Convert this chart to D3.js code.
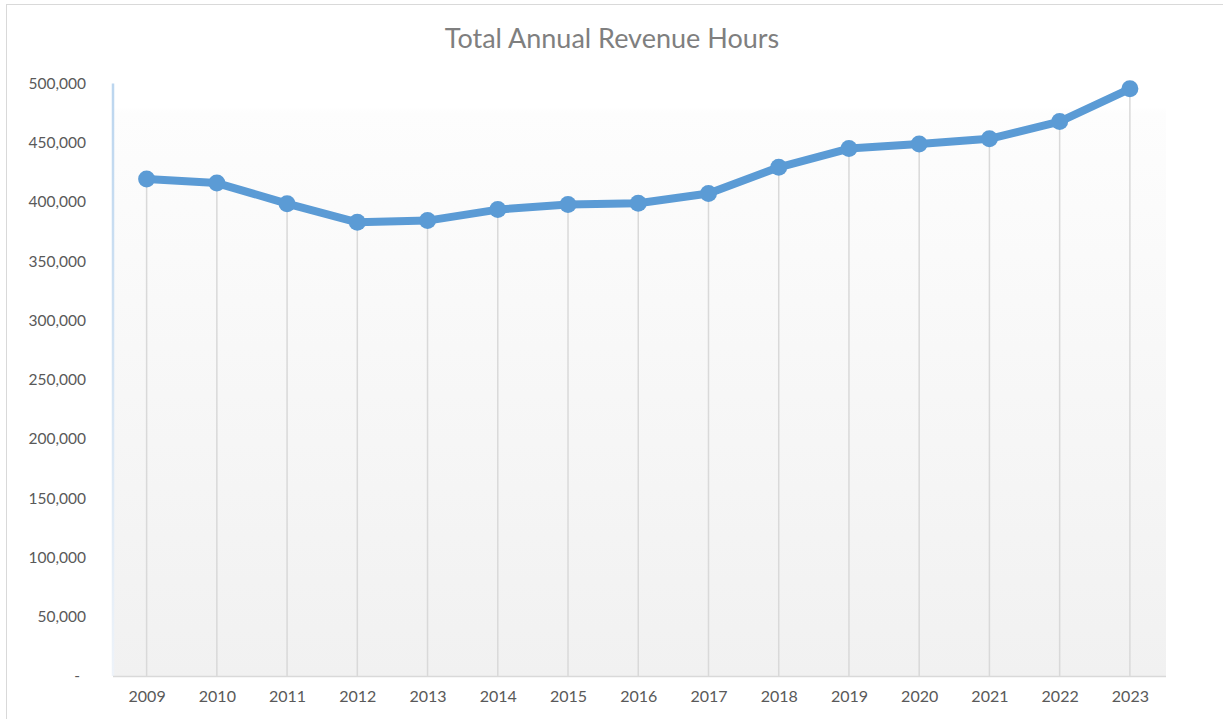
<!DOCTYPE html>
<html>
<head>
<meta charset="utf-8">
<script src="https://cdn.jsdelivr.net/npm/d3@7"></script>
<style>
  body { margin: 0; background: #fff; }
  svg { display: block; }
</style>
</head>
<body>
<div id="chart"></div>
<script>
// chart data
const years = ["2009", "2010", "2011", "2012", "2013", "2014", "2015", "2016",
               "2017", "2018", "2019", "2020", "2021", "2022", "2023"];
const revenueHours = [419500, 416000, 398600, 382900, 384300, 393600, 397800, 399000,
                      407100, 429300, 445100, 449000, 453300, 467900, 495500];
const yTicks = [0, 50000, 100000, 150000, 200000, 250000, 300000, 350000, 400000, 450000, 500000];
const chartTitle = "Total Annual Revenue Hours";

const width = 1223, height = 719;
const plot = { left: 113, right: 1166, top: 83.5, bottom: 676 };

const svg = d3.select("#chart")
    .append("svg")
    .attr("width", width)
    .attr("height", height);

const defs = svg.append("defs");

// plot area background, white fading to light gray
const bg = defs.append("linearGradient")
    .attr("id", "plotBg")
    .attr("x1", 0).attr("y1", 0).attr("x2", 0).attr("y2", 1);
bg.append("stop").attr("offset", "0%").attr("stop-color", "#ffffff");
bg.append("stop").attr("offset", "4%").attr("stop-color", "#ffffff");
bg.append("stop").attr("offset", "5%").attr("stop-color", "#fdfdfd");
bg.append("stop").attr("offset", "100%").attr("stop-color", "#f1f1f1");

// left edge blue line, fades out downwards
const edge = defs.append("linearGradient")
    .attr("id", "edgeBlue")
    .attr("gradientUnits", "userSpaceOnUse")
    .attr("x1", 0).attr("y1", plot.top).attr("x2", 0).attr("y2", plot.bottom);
edge.append("stop").attr("offset", "0%").attr("stop-color", "#bcd6ef");
edge.append("stop").attr("offset", "100%").attr("stop-color", "#eef3f9");

// outer chart border (runs off the right and bottom of the view)
svg.append("rect")
    .attr("x", 6.5)
    .attr("y", 4.5)
    .attr("width", width + 20)
    .attr("height", height + 20)
    .attr("fill", "#fff")
    .attr("stroke", "#d9d9d9")
    .attr("stroke-width", 1);

//scales
const x = d3.scalePoint()
    .domain(years)
    .range([111.5, 1165])
    .padding(0.5);

const y = d3.scaleLinear()
    .domain([0, 500000])
    .range([plot.bottom, plot.top]);

svg.append("rect")
    .attr("x", plot.left)
    .attr("y", plot.top)
    .attr("width", plot.right - plot.left)
    .attr("height", plot.bottom - plot.top)
    .attr("fill", "url(#plotBg)");

svg.append("line")
    .attr("x1", plot.left).attr("x2", plot.left)
    .attr("y1", plot.top).attr("y2", plot.bottom)
    .attr("stroke", "url(#edgeBlue)")
    .attr("stroke-width", 2.5);

// title
svg.append("text")
    .attr("x", 612)
    .attr("y", 48)
    .attr("text-anchor", "middle")
    .style("font-family", "Lato, 'Open Sans', sans-serif")
    .style("font-size", "27px")
    .style("fill", "#7f7f7f")
    .text(chartTitle);

// y axis labels (no line, no ticks)
const fmt = d3.format(",");
const yAxis = svg.append("g")
    .attr("transform", `translate(${plot.left - 27},0)`)
    .call(d3.axisLeft(y)
        .tickValues(yTicks)
        .tickSize(0)
        .tickPadding(0)
        .tickFormat((d) => (d === 0 ? "-" : fmt(d))));
yAxis.select(".domain").remove();
yAxis.selectAll("text")
    .style("font-family", "Lato, 'Open Sans', sans-serif")
    .style("font-size", "15.5px")
    .style("fill", "#595959");
yAxis.selectAll(".tick")
    .filter((d) => d === 0)
    .select("text")
    .attr("dx", -6);

// drop lines from each point to the axis
svg.append("g")
    .selectAll("line")
    .data(revenueHours)
    .enter()
    .append("line")
    .attr("x1", (d, i) => x(years[i]))
    .attr("x2", (d, i) => x(years[i]))
    .attr("y1", (d) => y(d))
    .attr("y2", plot.bottom)
    .attr("stroke", "#d9d9d9")
    .attr("stroke-width", 1.5);

// x axis
const xAxis = svg.append("g")
    .attr("transform", `translate(0,${plot.bottom})`)
    .call(d3.axisBottom(x).tickSize(0).tickPadding(15));
xAxis.select(".domain")
    .attr("d", `M${plot.left},0.5H${plot.right}`)
    .attr("stroke", "#d9d9d9")
    .attr("stroke-width", 1.5);
xAxis.selectAll("text")
    .style("font-family", "Lato, 'Open Sans', sans-serif")
    .style("font-size", "16px")
    .style("fill", "#595959");

// series line and markers
const line = d3.line()
    .x((d, i) => x(years[i]))
    .y((d) => y(d));

svg.append("path")
    .datum(revenueHours)
    .attr("d", line)
    .attr("fill", "none")
    .attr("stroke", "#5b9bd5")
    .attr("stroke-width", 8)
    .attr("stroke-linejoin", "round");

svg.append("g")
    .selectAll("circle")
    .data(revenueHours)
    .enter()
    .append("circle")
    .attr("cx", (d, i) => x(years[i]))
    .attr("cy", (d) => y(d))
    .attr("r", 8.5)
    .attr("fill", "#5b9bd5");
</script>
</body>
</html>
